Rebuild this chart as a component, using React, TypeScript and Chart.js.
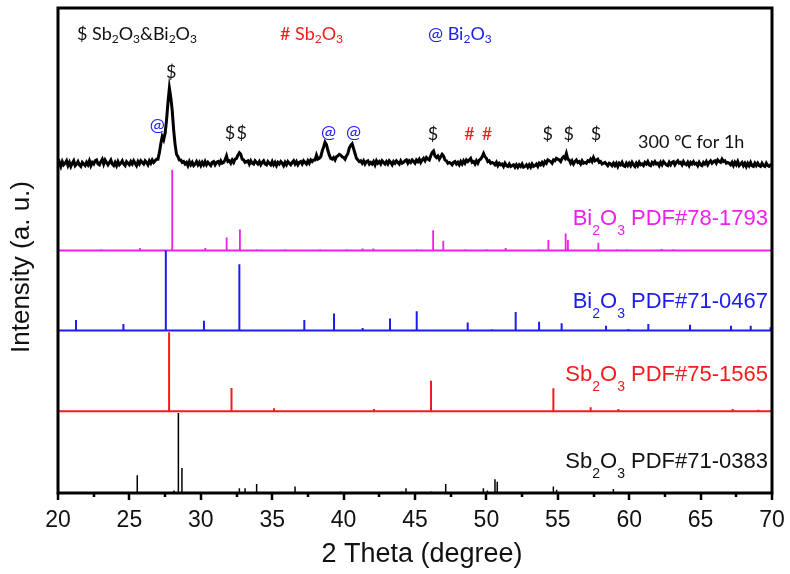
import React, { useEffect, useRef } from 'react';
import { Chart, registerables } from 'chart.js';

Chart.register(...registerables);

// ---------- axis ----------
const X_MIN = 20;
const X_MAX = 70;
const X_STEP = 5;
const Y_MIN = 0;
const Y_MAX = 600;

// ---------- measured pattern (300 C for 1h), 2theta from 20 step 0.1 ----------
const EXP_START = 20;
const EXP_STEP = 0.1;
const EXP_OFFSET = 400;
const expIntensity = [
  5, 9, 4, 10, 6, 8, 11, 5, 9, 4,
  8, 11, 5, 7, 10, 6, 4, 9, 7, 5,
  9, 6, 11, 5, 9, 7, 11, 12, 7, 6,
  10, 13, 7, 12, 9, 6, 9, 12, 7, 5,
  9, 5, 10, 6, 8, 11, 7, 5, 10, 8,
  6, 10, 7, 11, 8, 5, 10, 7, 11, 9,
  7, 11, 9, 6, 11, 8, 12, 9, 11, 13,
  13, 21, 32, 41, 37, 45, 61, 83, 101, 89,
  73, 49, 31, 19, 16, 12, 12, 9, 10, 7,
  9, 5, 10, 6, 9, 5, 7, 10, 6, 9,
  5, 9, 6, 10, 6, 9, 7, 5, 9, 10,
  6, 9, 10, 7, 11, 8, 9, 12, 17, 10,
  11, 8, 12, 9, 13, 14, 18, 21, 19, 13,
  12, 9, 10, 11, 7, 11, 8, 7, 11, 9,
  7, 10, 6, 9, 11, 7, 6, 10, 8, 6,
  10, 6, 9, 5, 9, 7, 10, 8, 5, 9,
  6, 10, 8, 6, 9, 11, 7, 10, 6, 9,
  10, 7, 11, 9, 7, 11, 8, 12, 10, 12,
  12, 18, 13, 14, 16, 23, 28, 34, 31, 24,
  18, 14, 13, 15, 12, 16, 17, 19, 18, 16,
  15, 13, 17, 20, 27, 30, 32, 26, 20, 14,
  12, 10, 11, 8, 11, 7, 10, 11, 7, 9,
  7, 10, 6, 11, 8, 10, 7, 11, 9, 7,
  10, 7, 11, 9, 6, 10, 8, 11, 9, 7,
  11, 8, 9, 11, 12, 8, 11, 9, 12, 10,
  8, 12, 10, 13, 9, 12, 14, 11, 15, 13,
  12, 17, 21, 23, 17, 15, 17, 13, 16, 19,
  17, 12, 11, 8, 9, 8, 6, 9, 10, 7,
  9, 6, 10, 7, 11, 8, 12, 10, 12, 14,
  9, 10, 7, 11, 8, 12, 13, 16, 20, 16,
  14, 10, 11, 8, 9, 8, 6, 9, 5, 8,
  6, 7, 4, 8, 5, 4, 7, 4, 5, 6,
  3, 6, 3, 6, 4, 7, 3, 4, 6, 3,
  6, 3, 7, 4, 5, 7, 4, 8, 6, 9,
  6, 10, 8, 12, 11, 10, 8, 12, 11, 14,
  13, 12, 10, 14, 16, 14, 20, 13, 12, 8,
  11, 7, 10, 12, 9, 10, 7, 11, 8, 9,
  8, 11, 10, 13, 10, 15, 11, 12, 13, 9,
  10, 7, 8, 9, 7, 5, 8, 7, 5, 8,
  5, 8, 4, 8, 6, 9, 5, 4, 8, 5,
  8, 5, 9, 6, 4, 8, 5, 9, 6, 7,
  5, 9, 7, 10, 6, 5, 9, 7, 10, 7,
  8, 5, 9, 6, 10, 8, 6, 5, 9, 6,
  9, 10, 6, 9, 11, 8, 9, 6, 10, 7,
  6, 9, 5, 9, 7, 10, 7, 8, 5, 9,
  6, 5, 9, 7, 10, 6, 9, 11, 8, 10,
  11, 8, 12, 10, 9, 13, 10, 11, 8, 9,
  8, 6, 9, 5, 9, 6, 10, 5, 7, 9,
  5, 8, 4, 8, 5, 9, 5, 4, 8, 5,
  8, 5, 4, 8, 5, 4, 8, 5, 4, 6,
  6,
];

// ---------- reference cards (stick positions / relative intensities) ----------
const bi78Offset = 300;
const bi78Pos = [22.99, 25.74, 28.0, 30.32, 31.81, 32.74, 33.9, 35.9, 36.7, 38.35, 39.28, 40.22, 41.33, 42.08, 45.1, 46.27, 46.98, 48.5, 50.02, 51.35, 53.71, 54.34, 55.55, 55.71, 57.84, 59.12, 59.82, 62.27, 63.09, 64.84];
const bi78Int = [1.5, 3, 100, 3, 16, 26, 1.5, 1.5, 1, 1.5, 1, 1.5, 2.5, 2.5, 1.5, 25, 12, 1.5, 1.5, 3, 1.5, 13, 21, 13, 9.5, 1.5, 1.5, 2, 1.5, 1];

const bi71Offset = 201;
const bi71Pos = [21.26, 24.58, 27.55, 30.22, 32.7, 37.25, 39.33, 41.33, 43.25, 45.12, 48.69, 50.4, 52.05, 53.69, 55.27, 58.38, 59.94, 61.34, 64.26, 67.13, 68.51, 69.9];
const bi71Int = [13, 8, 99, 12, 82, 13, 21, 3, 15, 24, 10, 1.5, 23, 11, 9, 6, 2, 8, 7, 6, 6, 4];

const sb75Offset = 101;
const sb75Pos = [27.78, 32.15, 35.13, 42.13, 46.12, 48.34, 54.69, 57.3, 59.24, 64.22, 67.25, 69.04];
const sb75Int = [98, 29, 4, 3, 38, 1.5, 28.5, 5, 3, 1.5, 3, 2];

const sb71Offset = 0;
const sb71Pos = [25.55, 28.12, 28.43, 28.68, 32.7, 33.1, 33.91, 36.6, 39.8, 41.03, 43.02, 44.07, 44.37, 46.12, 47.15, 49.79, 50.07, 50.6, 50.76, 54.69, 54.92, 58.89];
const sb71Int = [22, 3, 99, 31, 6, 6, 11, 8, 2, 1, 1, 2, 6, 2, 11, 6, 3, 17, 14, 8, 4, 5];

// ---------- peak markers ----------
const markerTheta = [27.92, 26.96, 32.05, 32.87, 38.94, 40.69, 46.26, 48.82, 50.04, 54.29, 55.76, 57.68];
const markerLevel = [521, 455, 445, 445, 446, 446, 444, 444, 444, 444, 444, 444];
const markerText = ['$', '@', '$', '$', '@', '@', '$', '#', '#', '$', '$', '$'];

// ---------- colours ----------
const C_MAG = '#ee1fee';
const C_BLUE = '#1c1cf0';
const C_RED = '#f21c1c';
const C_BLACK = '#000000';

type Run = { t: string; sub?: boolean };

function sticks(pos: number[], ints: number[], base: number) {
  const pts: { x: number; y: number }[] = [{ x: X_MIN, y: base }];
  const order = pos.map((p, i) => i).sort((a, b) => pos[a] - pos[b]);
  for (const i of order) {
    pts.push({ x: pos[i], y: base });
    pts.push({ x: pos[i], y: base + ints[i] });
    pts.push({ x: pos[i], y: base });
  }
  pts.push({ x: X_MAX, y: base });
  return pts;
}

function drawRuns(
  ctx: CanvasRenderingContext2D,
  runs: Run[],
  x: number,
  y: number,
  align: 'left' | 'right',
  mainFont: string,
  subFont: string,
  subDy: number,
  color: string
) {
  let total = 0;
  const widths = runs.map((r) => {
    ctx.font = r.sub ? subFont : mainFont;
    const w = ctx.measureText(r.t).width;
    total += w;
    return w;
  });
  let cx = align === 'right' ? x - total : x;
  ctx.fillStyle = color;
  ctx.textAlign = 'left';
  ctx.textBaseline = 'alphabetic';
  runs.forEach((r, i) => {
    ctx.font = r.sub ? subFont : mainFont;
    ctx.fillText(r.t, cx, r.sub ? y + subDy : y);
    cx += widths[i];
  });
}

const ARIAL = '"Liberation Sans", Arial, sans-serif';
const CALIBRI = 'Lato, "Open Sans", sans-serif';

const decorPlugin = {
  id: 'decor',
  afterDatasetsDraw(chart: any) {
    const { ctx, chartArea, scales } = chart;
    const xs = scales.x;
    ctx.save();
    // frame
    ctx.strokeStyle = '#000';
    ctx.lineWidth = 3;
    ctx.strokeRect(chartArea.left, chartArea.top, chartArea.right - chartArea.left, chartArea.bottom - chartArea.top);
    // ticks (major + minor) pointing outward
    ctx.lineWidth = 2.5;
    for (let v = X_MIN; v <= X_MAX + 0.001; v += X_STEP / 2) {
      const px = Math.round(xs.getPixelForValue(v));
      const major = Math.abs(v / X_STEP - Math.round(v / X_STEP)) < 1e-6;
      ctx.beginPath();
      ctx.moveTo(px, chartArea.bottom);
      ctx.lineTo(px, chartArea.bottom + (major ? 7 : 4));
      ctx.stroke();
    }
    ctx.restore();
  },
  afterDraw(chart: any) {
    const { ctx, scales } = chart;
    const xs = scales.x;
    const ys = scales.y;
    ctx.save();

    // header legend
    const hf = `18px ${CALIBRI}`;
    const hs = `12px ${CALIBRI}`;
    drawRuns(ctx, [{ t: '$ Sb' }, { t: '2', sub: true }, { t: 'O' }, { t: '3', sub: true }, { t: '&Bi' }, { t: '2', sub: true }, { t: 'O' }, { t: '3', sub: true }], 77, 40, 'left', hf, hs, 3, '#111');
    drawRuns(ctx, [{ t: '# Sb' }, { t: '2', sub: true }, { t: 'O' }, { t: '3', sub: true }], 280, 40, 'left', hf, hs, 3, C_RED);
    drawRuns(ctx, [{ t: '@ Bi' }, { t: '2', sub: true }, { t: 'O' }, { t: '3', sub: true }], 428, 40, 'left', hf, hs, 3, C_BLUE);

    // peak markers
    ctx.font = `18px ${CALIBRI}`;
    ctx.textAlign = 'center';
    ctx.textBaseline = 'middle';
    markerText.forEach((m, i) => {
      ctx.fillStyle = m === '@' ? C_BLUE : m === '#' ? C_RED : '#111';
      ctx.fillText(m, xs.getPixelForValue(markerTheta[i]), ys.getPixelForValue(markerLevel[i]));
    });

    // sample label
    ctx.font = `18px ${CALIBRI}`;
    ctx.textAlign = 'left';
    ctx.textBaseline = 'alphabetic';
    ctx.fillStyle = '#111';
    ctx.fillText('300 \u2103 for 1h', 638, 148);

    // card labels
    const lf = `22px ${ARIAL}`;
    const ls = `14px ${ARIAL}`;
    drawRuns(ctx, [{ t: 'Bi' }, { t: '2', sub: true }, { t: 'O' }, { t: '3', sub: true }, { t: ' PDF#78-1793' }], 768, 225, 'right', lf, ls, 10, C_MAG);
    drawRuns(ctx, [{ t: 'Bi' }, { t: '2', sub: true }, { t: 'O' }, { t: '3', sub: true }, { t: ' PDF#71-0467' }], 768, 308, 'right', lf, ls, 10, C_BLUE);
    drawRuns(ctx, [{ t: 'Sb' }, { t: '2', sub: true }, { t: 'O' }, { t: '3', sub: true }, { t: ' PDF#75-1565' }], 768, 381, 'right', lf, ls, 10, C_RED);
    drawRuns(ctx, [{ t: 'Sb' }, { t: '2', sub: true }, { t: 'O' }, { t: '3', sub: true }, { t: ' PDF#71-0383' }], 768, 468, 'right', lf, ls, 10, '#111');

    // axis titles
    ctx.fillStyle = '#111';
    ctx.font = `27px ${ARIAL}`;
    ctx.textAlign = 'center';
    ctx.textBaseline = 'alphabetic';
    ctx.fillText('2 Theta (degree)', 422, 562);

    ctx.translate(22, 267);
    ctx.rotate(-Math.PI / 2);
    ctx.font = `26px ${ARIAL}`;
    ctx.textBaseline = 'middle';
    ctx.fillText('Intensity (a. u.)', 0, 0);
    ctx.restore();
  },
};

export default function App() {
  const ref = useRef<HTMLCanvasElement>(null);
  useEffect(() => {
    const expData = expIntensity.map((v, i) => ({ x: EXP_START + i * EXP_STEP, y: v + EXP_OFFSET }));
    const chart = new Chart(ref.current as HTMLCanvasElement, {
      type: 'line',
      data: {
        datasets: [
          { label: 'Sb2O3 PDF#71-0383', data: sticks(sb71Pos, sb71Int, sb71Offset), borderColor: C_BLACK, borderWidth: 1.5 },
          { label: 'Sb2O3 PDF#75-1565', data: sticks(sb75Pos, sb75Int, sb75Offset), borderColor: C_RED, borderWidth: 2 },
          { label: 'Bi2O3 PDF#71-0467', data: sticks(bi71Pos, bi71Int, bi71Offset), borderColor: C_BLUE, borderWidth: 2 },
          { label: 'Bi2O3 PDF#78-1793', data: sticks(bi78Pos, bi78Int, bi78Offset), borderColor: C_MAG, borderWidth: 1.8 },
          { label: '300 C for 1h', data: expData, borderColor: C_BLACK, borderWidth: 3 },
        ] as any,
      },
      options: {
        responsive: false,
        animation: false,
        devicePixelRatio: 1,
        layout: { padding: { left: 58, right: 18, top: 8, bottom: 0 } },
        elements: { point: { radius: 0 }, line: { tension: 0, borderJoinStyle: 'miter' as any } },
        plugins: { legend: { display: false }, tooltip: { enabled: false } },
        scales: {
          x: {
            type: 'linear',
            min: X_MIN,
            max: X_MAX,
            afterFit: (s: any) => {
              s.height = 81;
              s.paddingLeft = 0;
              s.paddingRight = 0;
            },
            grid: { display: false, drawTicks: false },
            border: { display: false },
            ticks: {
              stepSize: X_STEP,
              padding: 14,
              autoSkip: false,
              maxRotation: 0,
              color: '#111',
              font: { family: ARIAL, size: 23 },
            },
          },
          y: { display: false, min: Y_MIN, max: Y_MAX },
        },
      },
      plugins: [decorPlugin],
    });
    return () => chart.destroy();
  }, []);
  return (
    <div style={{ position: 'absolute', left: 0, top: 0, width: 790, height: 574, background: '#fff' }}>
      <canvas ref={ref} width={790} height={574} style={{ display: 'block' }} />
    </div>
  );
}
